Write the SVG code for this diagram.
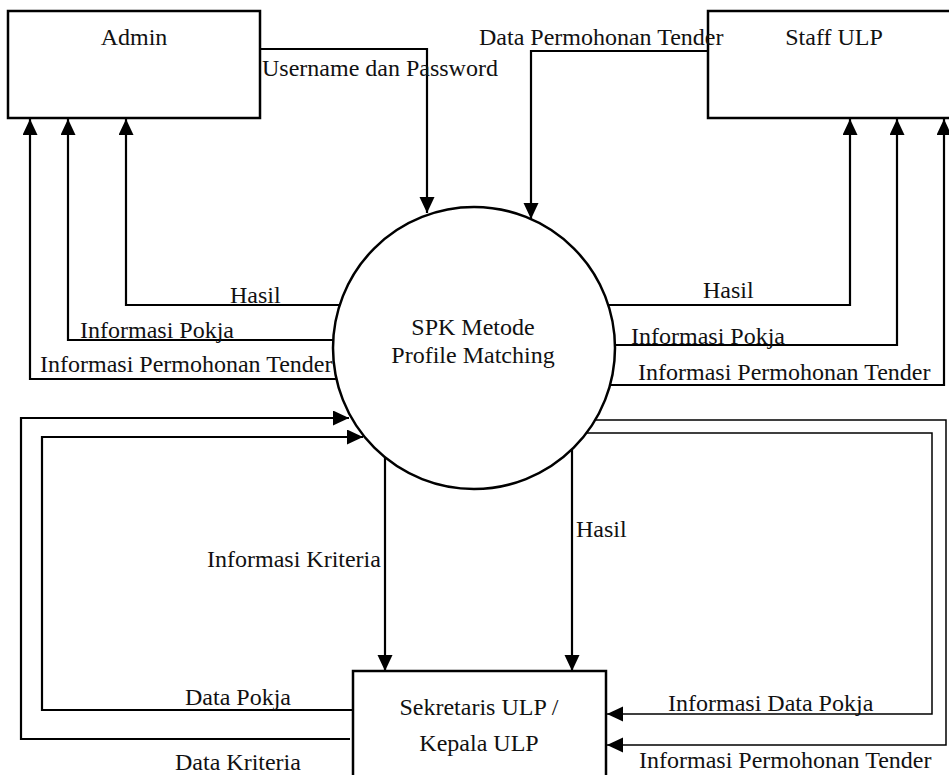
<svg xmlns="http://www.w3.org/2000/svg" width="949" height="775" viewBox="0 0 949 775" font-family="'Liberation Serif', 'Times New Roman', serif">
  <style>
    text { font-family: 'Liberation Serif', 'Times New Roman', serif; font-size: 24px; fill: #111; }
    .mid { text-anchor: middle; }
    .box { fill: #fff; stroke: #000; stroke-width: 2.5; }
    .flow { fill: none; stroke: #000; stroke-width: 2.2; }
    .thin { fill: none; stroke: #000; stroke-width: 1.5; }
  </style>
  <defs>
    <marker id="arrow" markerUnits="userSpaceOnUse" markerWidth="16" markerHeight="16" refX="16" refY="7.5" orient="auto">
      <path d="M0,0 L16,7.5 L0,15 Z" fill="#000"/>
    </marker>
  </defs>
  <rect width="949" height="775" fill="#fff"/>

  <!-- data flows -->
  <g id="connectors">
    <path class="flow" d="M260,49 H427 V213" marker-end="url(#arrow)"/>
    <path class="flow" d="M708,51 H531 V219" marker-end="url(#arrow)"/>

    <path class="flow" d="M340,305 H126 V119" marker-end="url(#arrow)"/>
    <path class="flow" d="M333,340 H68 V119" marker-end="url(#arrow)"/>
    <path class="flow" d="M337,379 H30 V119" marker-end="url(#arrow)"/>

    <path class="flow" d="M608,305 H850 V119" marker-end="url(#arrow)"/>
    <path class="flow" d="M615,345 H897 V119" marker-end="url(#arrow)"/>
    <path class="flow" d="M610,385 H944 V119" marker-end="url(#arrow)"/>

    <path class="flow" d="M350,739 H21 V418 H349" marker-end="url(#arrow)"/>
    <path class="flow" d="M353,710 H42 V437 H363" marker-end="url(#arrow)"/>

    <path class="flow" d="M385,457 V671" marker-end="url(#arrow)"/>
    <path class="flow" d="M572,449 V671" marker-end="url(#arrow)"/>

    <path class="thin" d="M587,433 H932 V714 H607" marker-end="url(#arrow)"/>
    <path class="thin" d="M595,420 H946 V745 H607" marker-end="url(#arrow)"/>
  </g>

  <g id="admin">
    <rect class="box" x="8" y="11" width="252" height="107"/>
    <text class="mid" x="134" y="45">Admin</text>
  </g>

  <g id="staff-ulp">
    <rect class="box" x="708" y="11" width="260" height="107"/>
    <text class="mid" x="834" y="45">Staff ULP</text>
  </g>

  <g id="process">
    <circle cx="474" cy="348" r="141" fill="none" stroke="#000" stroke-width="2.5"/>
    <text class="mid" x="473" y="335">SPK Metode</text>
    <text class="mid" x="473" y="363">Profile Matching</text>
  </g>

  <g id="sekretaris-ulp">
    <rect class="box" x="353" y="671" width="253" height="120"/>
    <text class="mid" x="479" y="715">Sekretaris ULP /</text>
    <text class="mid" x="479" y="751">Kepala ULP</text>
  </g>

  <!-- flow labels, drawn last so they sit over box edges -->
  <g id="labels">
    <text x="262" y="76">Username dan Password</text>
    <text x="479" y="45">Data Permohonan Tender</text>
    <text x="230" y="303">Hasil</text>
    <text x="80" y="338">Informasi Pokja</text>
    <text x="40" y="372">Informasi Permohonan Tender</text>
    <text x="703" y="298">Hasil</text>
    <text x="631" y="344">Informasi Pokja</text>
    <text x="638" y="380">Informasi Permohonan Tender</text>
    <text x="207" y="567">Informasi Kriteria</text>
    <text x="576" y="537">Hasil</text>
    <text x="185" y="705">Data Pokja</text>
    <text x="175" y="770">Data Kriteria</text>
    <text x="668" y="711">Informasi Data Pokja</text>
    <text x="639" y="768">Informasi Permohonan Tender</text>
  </g>
</svg>
